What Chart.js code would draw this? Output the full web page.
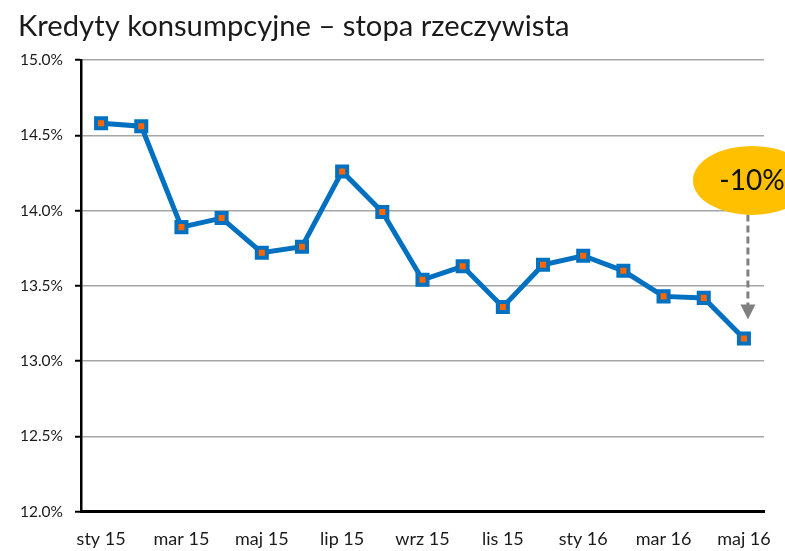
<!DOCTYPE html>
<html>
<head>
<meta charset="utf-8">
<script src="https://cdn.jsdelivr.net/npm/chart.js@4/dist/chart.umd.min.js"></script>
<style>
  html, body { margin: 0; padding: 0; background: #ffffff; }
  #wrap { position: relative; width: 785px; height: 551px; }
</style>
</head>
<body>
<div id="wrap"><canvas id="c" width="785" height="551"></canvas></div>
<script>
const title = 'Kredyty konsumpcyjne – stopa rzeczywista';
const categories = ['sty 15','lut 15','mar 15','kwi 15','maj 15','cze 15','lip 15','sie 15','wrz 15','paź 15','lis 15','gru 15','sty 16','lut 16','mar 16','kwi 16','maj 16'];
const rateValues = [14.58, 14.56, 13.89, 13.95, 13.72, 13.76, 14.26, 13.99, 13.54, 13.63, 13.36, 13.64, 13.70, 13.60, 13.43, 13.42, 13.15];
const yTicks = [12.0, 12.5, 13.0, 13.5, 14.0, 14.5, 15.0];
const badgeText = '-10%';

const FONT = "Lato, 'Open Sans', sans-serif";

const overlay = {
  id: 'overlay',
  afterDraw(chart) {
    const ctx = chart.ctx;
    const xs = chart.scales.x, ys = chart.scales.y;
    // title
    ctx.save();
    ctx.fillStyle = '#1a1a1a';
    ctx.font = "29.2px " + FONT;
    ctx.textBaseline = 'alphabetic';
    ctx.textAlign = 'left';
    ctx.fillText(title, 18, 36);
    ctx.restore();

    // arrow (dashed) from badge down to last point
    const last = rateValues.length - 1;
    const ax = xs.getPixelForValue(last) + 4;
    const ay0 = ys.getPixelForValue(14.2) + 34;
    const tip = ys.getPixelForValue(rateValues[last]) - 19;
    ctx.save();
    ctx.strokeStyle = '#808080';
    ctx.lineWidth = 3;
    ctx.setLineDash([7, 4]);
    ctx.beginPath();
    ctx.moveTo(ax, ay0);
    ctx.lineTo(ax, tip - 14);
    ctx.stroke();
    ctx.setLineDash([]);
    ctx.fillStyle = '#808080';
    ctx.beginPath();
    ctx.moveTo(ax - 7.5, tip - 15);
    ctx.lineTo(ax + 7.5, tip - 15);
    ctx.lineTo(ax, tip);
    ctx.closePath();
    ctx.fill();
    ctx.restore();

    // badge ellipse
    const cx = xs.getPixelForValue(last) + 8;
    const cy = ys.getPixelForValue(14.2);
    ctx.save();
    ctx.fillStyle = '#FFC000';
    ctx.beginPath();
    ctx.ellipse(cx, cy, 59, 34.5, 0, 0, Math.PI * 2);
    ctx.fill();
    ctx.fillStyle = '#111111';
    ctx.font = "28px " + FONT;
    ctx.textAlign = 'center';
    ctx.textBaseline = 'middle';
    ctx.fillText(badgeText, 752, cy + 1);
    ctx.restore();
  }
};

new Chart(document.getElementById('c'), {
  type: 'line',
  data: {
    labels: categories,
    datasets: [{
      data: rateValues,
      borderColor: '#0070C0',
      borderWidth: 5,
      tension: 0,
      pointStyle: 'rect',
      pointRadius: 7.1,
      pointHoverRadius: 7.1,
      pointBackgroundColor: '#FF6600',
      pointBorderColor: '#0070C0',
      pointBorderWidth: 4
    }]
  },
  options: {
    responsive: false,
    animation: false,
    events: [],
    layout: { padding: { left: 0, right: 21, top: 60, bottom: 0 } },
    plugins: { legend: { display: false }, title: { display: false }, tooltip: { enabled: false } },
    scales: {
      x: {
        type: 'category',
        offset: true,
        grid: { display: false, drawTicks: false },
        border: { display: true, color: '#000000', width: 3 },
        ticks: {
          autoSkip: false,
          maxRotation: 0,
          color: '#1a1a1a',
          font: { family: FONT, size: 18 },
          padding: 17,
          callback: function(v, i) { return i % 2 === 0 ? categories[i] : ''; }
        },
        afterFit(s) { s.height = 39.3; s.paddingLeft = 0; s.paddingRight = 0; }
      },
      y: {
        min: 12, max: 15,
        afterBuildTicks(s) { s.ticks = yTicks.map(v => ({ value: v })); },
        grid: { color: '#A6A6A6', lineWidth: 1.5, tickColor: '#000000', tickLength: 6, tickWidth: 2 },
        border: { display: true, color: '#000000', width: 2.5 },
        ticks: {
          color: '#1a1a1a',
          font: { family: FONT, size: 15.5 },
          padding: 12,
          callback: v => Number(v).toFixed(1) + '%'
        },
        afterFit(s) { s.width = 81; s.paddingTop = 0; s.paddingBottom = 0; }
      }
    }
  },
  plugins: [overlay]
});
</script>
</body>
</html>
